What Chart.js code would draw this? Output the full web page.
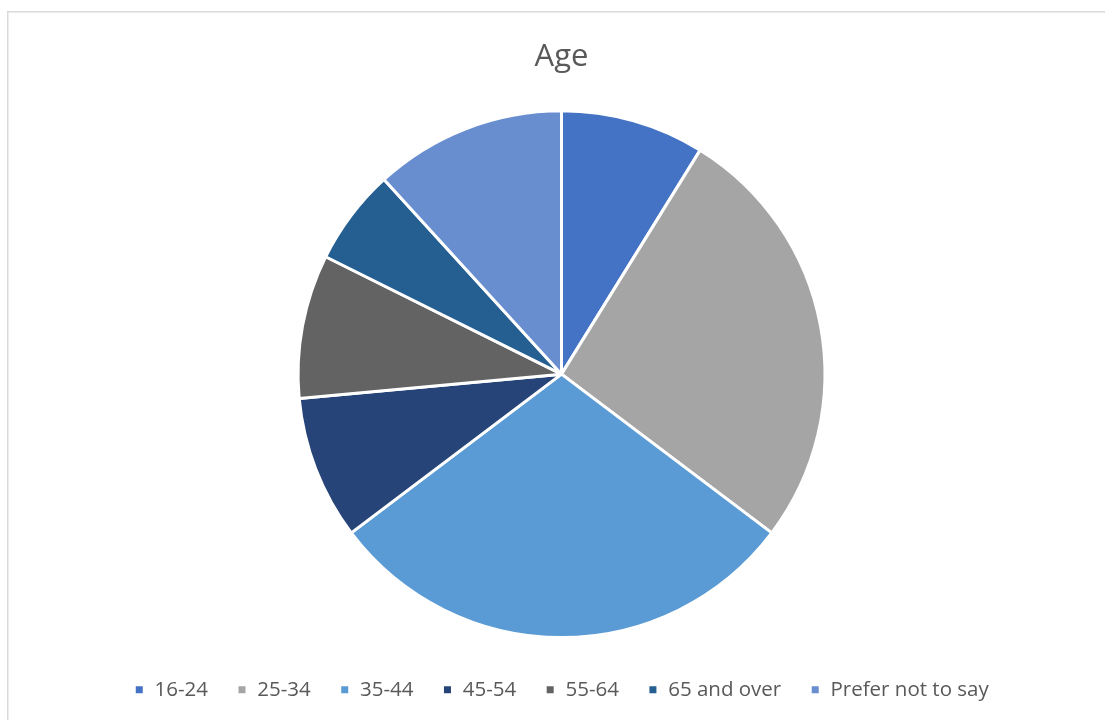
<!DOCTYPE html>
<html>
<head>
<meta charset="utf-8">
<title>Age</title>
<script src="https://cdn.jsdelivr.net/npm/chart.js@4/dist/chart.umd.min.js"></script>
<style>
    html, body { margin: 0; padding: 0; background: #ffffff; }
    #wrap { position: relative; width: 1105px; height: 720px; }
</style>
</head>
<body>
<div id="wrap"><canvas id="agePieChart"></canvas></div>
<script>
// Age groups and number of respondents in each
const ageGroups = ["16-24", "25-34", "35-44", "45-54", "55-64", "65 and over", "Prefer not to say"];
const respondents = [3, 9, 10, 3, 3, 2, 4];
const sliceColors = ["#4472C4", "#A5A5A5", "#5B9BD5", "#264478", "#636363", "#255E91", "#698ED0"];

document.addEventListener("DOMContentLoaded", function () {
    // Light grey outline round the chart area
    const frame = {
        id: "frame",
        afterDraw(chart) {
            const c = chart.ctx;
            c.save();
            c.strokeStyle = "#D9D9D9";
            c.lineWidth = 1.5;
            c.strokeRect(7.75, 11.75, chart.width + 20, chart.height + 20);
            c.restore();
        }
    };

    const ctx = document.getElementById("agePieChart").getContext("2d");

    new Chart(ctx, {
        type: "pie",
        data: {
            labels: ageGroups,
            datasets: [{
                label: "Age",
                data: respondents,
                backgroundColor: sliceColors,
                borderColor: "#ffffff",
                borderWidth: 3
            }]
        },
        options: {
            responsive: true,
            maintainAspectRatio: false,
            animation: false,
            layout: { padding: { top: 0, bottom: 10, left: 18, right: 0 } },
            plugins: {
                title: {
                    display: true,
                    text: "Age",
                    color: "#595959",
                    font: { family: "'Open Sans', sans-serif", size: 31, weight: "normal" },
                    padding: { top: 39, bottom: 33 }
                },
                legend: {
                    position: "bottom",
                    // empty legend title only adds a gap above the items
                    title: {
                        display: true,
                        text: " ",
                        font: { size: 2 },
                        padding: { top: 0, bottom: 9 }
                    },
                    labels: {
                        color: "#595959",
                        font: { family: "'Open Sans', sans-serif", size: 20.5 },
                        boxWidth: 10,
                        boxHeight: 10,
                        padding: 29
                    }
                },
                tooltip: { enabled: true }
            }
        },
        plugins: [frame]
    });
});
</script>
</body>
</html>
